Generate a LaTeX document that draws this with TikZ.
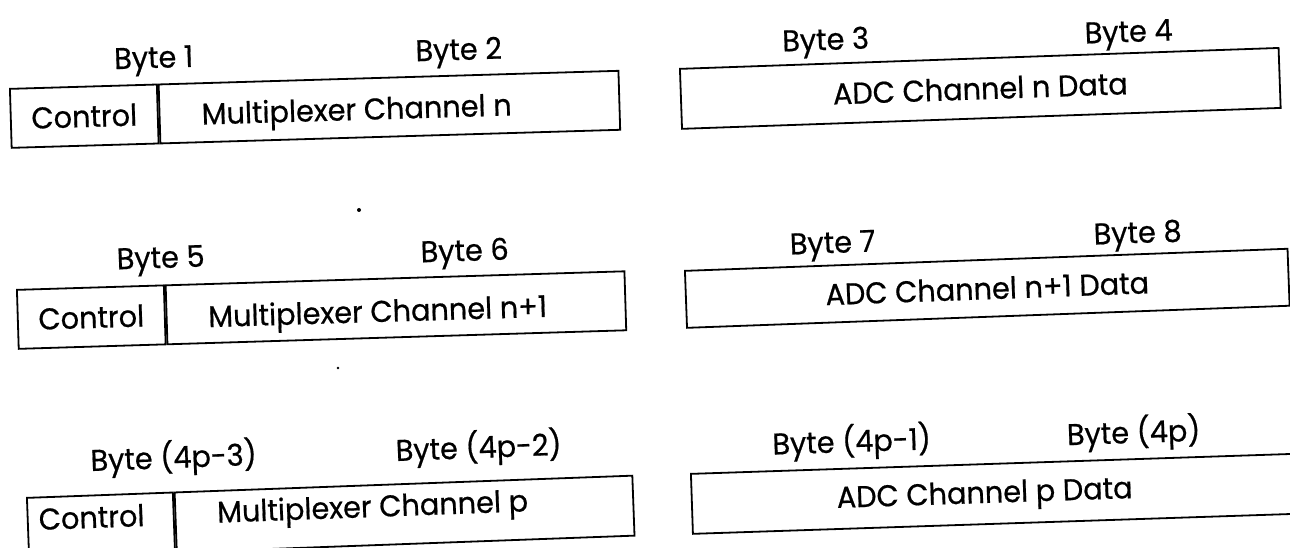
\documentclass[tikz,border=0pt]{standalone}
\usepackage{fontspec}
\setmainfont{Poppins}[FakeBold=0.6]
\usepackage{graphicx}
\usetikzlibrary{calc}
\newlength\refw
\newcommand\lblfont{\fontsize{30}{36}\selectfont}
\newcommand\T[1]{\scalebox{\sx}[1]{#1}}
\tikzset{
  frame/.style={draw, line width=1.8pt, inner sep=0pt, anchor=north west},
  lbl/.style={anchor=base, inner sep=0pt, font=\lblfont},
  boxtext/.style={font=\lblfont},
}
\begin{document}
\settowidth\refw{\lblfont Multiplexer Channel n}
\pgfmathsetmacro\sx{310/\refw}
\begin{tikzpicture}[x=1pt,y=-1pt]
\useasboundingbox (0,0) rectangle (1290,548);
\clip (0,0) rectangle (1290,548);
% ---------- row 1 ----------
\node[frame, rotate=1.7, minimum width=147pt, minimum height=59pt, boxtext] (c1) at (9,88) {\T{Control}};
\node[frame, rotate=1.7, minimum width=460pt, minimum height=59pt] (m1) at (c1.north east) {};
\node[lbl, rotate=1.7] (t1) at (357,120) {\T{Multiplexer Channel n}};
\node[lbl, rotate=1.7] (b1) at (154,68) {\T{Byte 1}};
\node[lbl, rotate=1.7] (b2) at (459,60) {\T{Byte 2}};
\node[frame, rotate=2.0, minimum width=599pt, minimum height=60pt, boxtext] (a1) at (679,68) {\T{ADC Channel n Data}};
\node[lbl, rotate=2.0] (b3) at (826,50) {\T{Byte 3}};
\node[lbl, rotate=2.0] (b4) at (1129,42) {\T{Byte 4}};
% ---------- row 2 ----------
\node[frame, rotate=1.75, minimum width=147pt, minimum height=59pt, boxtext] (c2) at (16,289) {\T{Control}};
\node[frame, rotate=1.75, minimum width=459pt, minimum height=59pt] (m2) at (c2.north east) {};
\node[lbl, rotate=1.75] (t2) at (378,322) {\T{Multiplexer Channel n+1}};
\node[lbl, rotate=1.75] (b5) at (161,268) {\T{Byte 5}};
\node[lbl, rotate=1.75] (b6) at (465,261) {\T{Byte 6}};
\node[frame, rotate=2.1, minimum width=603pt, minimum height=57pt, boxtext] (a2) at (684,270) {\T{ADC Channel n+1 Data}};
\node[lbl, rotate=2.1] (b7) at (833,253) {\T{Byte 7}};
\node[lbl, rotate=2.1] (b8) at (1138,243) {\T{Byte 8}};
% ---------- row 3 ----------
\node[frame, rotate=2.1, minimum width=146pt, minimum height=60pt] (c3) at (26,497) {};
\node[frame, rotate=2.1, minimum width=458pt, minimum height=60pt] (m3) at (c3.north east) {};
\node[lbl, rotate=2.1] (k3) at (92,528) {\T{Control}};
\node[lbl, rotate=2.1] (t3) at (373,517) {\T{Multiplexer Channel p}};
\node[lbl, rotate=2.1] (b9) at (174,468) {\T{Byte (4p-3)}};
\node[lbl, rotate=2.1] (b10) at (479,458) {\T{Byte (4p-2)}};
\node[frame, rotate=1.9, minimum width=620pt, minimum height=60pt] (a3) at (690,473) {};
\node[lbl, rotate=1.9] (t4) at (985,503) {\T{ADC Channel p Data}};
\node[lbl, rotate=1.9] (b11) at (852,452) {\T{Byte (4p-1)}};
\node[lbl, rotate=1.9] (b12) at (1134,443) {\T{Byte (4p)}};
% specks
\fill (359,210) circle (2pt);
\fill (338,368) circle (1.4pt);
\end{tikzpicture}
\end{document}
